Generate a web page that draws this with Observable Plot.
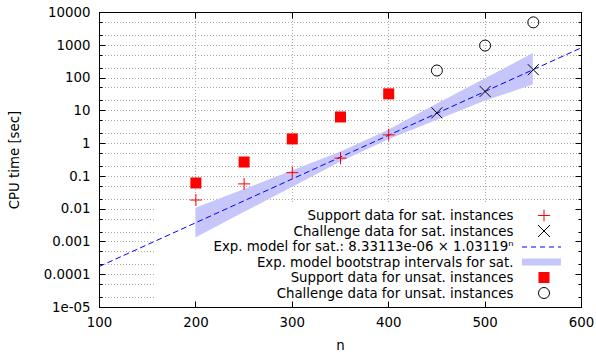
<!DOCTYPE html>
<html><head><meta charset="utf-8">
<script src="https://cdn.jsdelivr.net/npm/d3@7"></script>
<script src="https://cdn.jsdelivr.net/npm/@observablehq/plot@0.6"></script>
<style>html,body{margin:0;padding:0;background:#fff}svg{display:block}</style>
</head><body><div id="chart"></div>
<script>
// ---- data ----
const satSupportN = [200, 250, 300, 350, 400];
const satSupportT = [0.019, 0.059, 0.13, 0.36, 1.85];
const satChallengeN = [450, 500, 550];
const satChallengeT = [8.7, 39, 180];
const unsatSupportN = [200, 250, 300, 350, 400];
const unsatSupportT = [0.063, 0.275, 1.39, 6.5, 33];
const unsatChallengeN = [450, 500, 550];
const unsatChallengeT = [170, 980, 5000];
// exponential model 8.33113e-06 x 1.03119^n at the ends of the axis
const modelN = [100, 600];
const modelT = [1.797e-4, 842];
// bootstrap interval band
const bandN = [200, 250, 300, 350, 400, 450, 500, 550];
const bandLow = [0.00131, 0.00785, 0.0459, 0.269, 1.31, 5.05, 19.5, 61.2];
const bandHigh = [0.0107, 0.0394, 0.145, 0.548, 2.55, 16.0, 93.3, 558];
// ticks
const xTicks = [100, 200, 300, 400, 500, 600];
const yTicks = [1e-5, 1e-4, 1e-3, 0.01, 0.1, 1, 10, 100, 1000, 10000];
const yTickLabels = ["1e-05", "0.0001", "0.001", "0.01", "0.1", "1", "10", "100", "1000", "10000"];
const yMinorTicks = [2e-5, 5e-5, 2e-4, 5e-4, 2e-3, 5e-3, 0.02, 0.05, 0.2, 0.5, 2, 5, 20, 50, 200, 500, 2000, 5000];
const legendLabels = [
  "Support data for sat. instances",
  "Challenge data for sat. instances",
  "Exp. model for sat.: 8.33113e-06 \u00d7 1.03119\u207f",
  "Exp. model bootstrap intervals for sat.",
  "Support data for unsat. instances",
  "Challenge data for unsat. instances"
];
const xLabel = "n";
const yLabel = "CPU time [sec]";

const FONT = "DejaVu Sans, sans-serif";
const FS = 13.33;
const BAND = "rgb(198,198,250)";
const LINE = "#0000ff";
const RED = "#ff0000";

const zip = (xs, ys) => xs.map((x, i) => ({x, y: ys[i]}));
const bandData = bandN.map((n, i) => ({x: n, lo: bandLow[i], hi: bandHigh[i]}));

const plusSym = {draw(c) { c.moveTo(-6, 0); c.lineTo(6, 0); c.moveTo(0, -6); c.lineTo(0, 6); }};
const timesSym = {draw(c) { c.moveTo(-5.5, -5.5); c.lineTo(5.5, 5.5); c.moveTo(-5.5, 5.5); c.lineTo(5.5, -5.5); }};
const squareSym = {draw(c) { c.rect(-5.5, -5.5, 11, 11); }};
const circleSym = {draw(c) { c.moveTo(5.5, 0); c.arc(0, 0, 5.5, 0, 2 * Math.PI); }};

function frameBox(d) {
  return {L: d.marginLeft, R: d.width - d.marginRight, T: d.marginTop, B: d.height - d.marginBottom};
}

function gridMark(index, scales, values, dims) {
  const {L, R, T, B} = frameBox(dims);
  const g = d3.create("svg:g").attr("stroke", "#a8a8a8").attr("stroke-dasharray", "1,2").attr("fill", "none");
  let p = "";
  for (const v of xTicks.slice(1, -1)) { const px = Math.round(scales.x(v)) + 0.5; p += `M${px},${T}V${B}`; }
  for (const v of [...yTicks.slice(1, -1), ...yMinorTicks]) { const py = Math.round(scales.y(v)) + 0.5; p += `M${L},${py}H${R}`; }
  g.append("path").attr("d", p);
  return g.node();
}

function legendBg(index, scales, values, dims) {
  const {R, B} = frameBox(dims);
  return d3.create("svg:rect").attr("x", 156).attr("y", B - 103).attr("width", R - 156).attr("height", 103).attr("fill", "#fff").node();
}

function ticksMark(index, scales, values, dims) {
  const {L, R, T, B} = frameBox(dims);
  const l = L + 0.5, r = R + 0.5, t = T + 0.5, b = B + 0.5;
  let p = "";
  for (const v of xTicks.slice(1, -1)) { const px = Math.round(scales.x(v)) + 0.5; p += `M${px},${b}v-6M${px},${t}v6`; }
  for (const v of yTicks) { const py = Math.round(scales.y(v)) + 0.5; p += `M${l},${py}h6M${r},${py}h-6`; }
  for (const v of yMinorTicks) { const py = Math.round(scales.y(v)) + 0.5; p += `M${l},${py}h3M${r},${py}h-3`; }
  return d3.create("svg:path").attr("d", p).attr("stroke", "#000").attr("fill", "none").node();
}

function legendMark(index, scales, values, dims) {
  const {R, B} = frameBox(dims);
  const g = d3.create("svg:g").attr("font-family", FONT).attr("font-size", FS);
  const tx = R - 67.5, sx = R - 37;
  const rows = legendLabels.map((_, i) => B - 91.5 + i * 15.5);
  legendLabels.forEach((lab, i) => {
    g.append("text").attr("x", tx).attr("y", rows[i]).attr("dy", "0.35em").attr("text-anchor", "end").attr("fill", "#000").text(lab);
  });
  const s = 6;
  g.append("path").attr("d", `M${sx - s},${rows[0]}h${2 * s}M${sx},${rows[0] - s}v${2 * s}`)
    .attr("style", `stroke:${RED};fill:none;stroke-width:1`);
  g.append("path").attr("d", `M${sx - s},${rows[1] - s}l${2 * s},${2 * s}M${sx - s},${rows[1] + s}l${2 * s},${-2 * s}`)
    .attr("style", "stroke:#000;fill:none;stroke-width:1");
  g.append("line").attr("x1", R - 59).attr("x2", R - 20).attr("y1", rows[2] + 0.5).attr("y2", rows[2] + 0.5)
    .attr("style", `stroke:${LINE};stroke-dasharray:5,4;stroke-width:1`);
  g.append("rect").attr("x", R - 59).attr("width", 39).attr("y", rows[3] - 3.5).attr("height", 7).attr("style", `fill:${BAND}`);
  g.append("rect").attr("x", sx - 5.5).attr("y", rows[4] - 5.5).attr("width", 11).attr("height", 11).attr("style", `fill:${RED}`);
  g.append("circle").attr("cx", sx).attr("cy", rows[5]).attr("r", 5.5).attr("style", "stroke:#000;fill:none;stroke-width:1");
  return g.node();
}

const chart = Plot.plot({
  width: 596,
  height: 353,
  marginLeft: 99,
  marginRight: 15,
  marginTop: 12,
  marginBottom: 46,
  style: {fontFamily: FONT, fontSize: FS + "px", background: "#fff", color: "#000"},
  x: {domain: [100, 600]},
  y: {type: "log", domain: [1e-5, 1e4]},
  marks: [
    gridMark,
    legendBg,
    Plot.areaY(bandData, {x: "x", y1: "lo", y2: "hi", fill: BAND}),
    Plot.line(zip(modelN, modelT), {x: "x", y: "y", stroke: LINE, strokeWidth: 1, strokeDasharray: "5,4"}),
    Plot.dot(zip(satSupportN, satSupportT), {x: "x", y: "y", symbol: plusSym, fill: "none", stroke: RED, strokeWidth: 1}),
    Plot.dot(zip(satChallengeN, satChallengeT), {x: "x", y: "y", symbol: timesSym, fill: "none", stroke: "#000", strokeWidth: 1}),
    Plot.dot(zip(unsatSupportN, unsatSupportT), {x: "x", y: "y", symbol: squareSym, fill: RED, stroke: "none"}),
    Plot.dot(zip(unsatChallengeN, unsatChallengeT), {x: "x", y: "y", symbol: circleSym, fill: "none", stroke: "#000", strokeWidth: 1}),
    Plot.frame({stroke: "#000", strokeWidth: 1}),
    ticksMark,
    Plot.axisX({ticks: xTicks, tickSize: 0, tickPadding: 10, tickFormat: d3.format("d"), label: null, fontSize: FS}),
    Plot.axisY({ticks: yTicks, tickSize: 0, tickPadding: 9, tickFormat: d => yTickLabels[yTicks.indexOf(d)], label: null, fontSize: FS}),
    Plot.text([xLabel], {frameAnchor: "bottom", dy: 38.5, text: d => d, lineAnchor: "middle", textAnchor: "middle", fontSize: FS}),
    Plot.text([yLabel], {frameAnchor: "left", dx: -85, rotate: -90, text: d => d, lineAnchor: "middle", textAnchor: "middle", fontSize: FS}),
    legendMark
  ]
});
document.getElementById("chart").appendChild(chart);
</script>
</body></html>
